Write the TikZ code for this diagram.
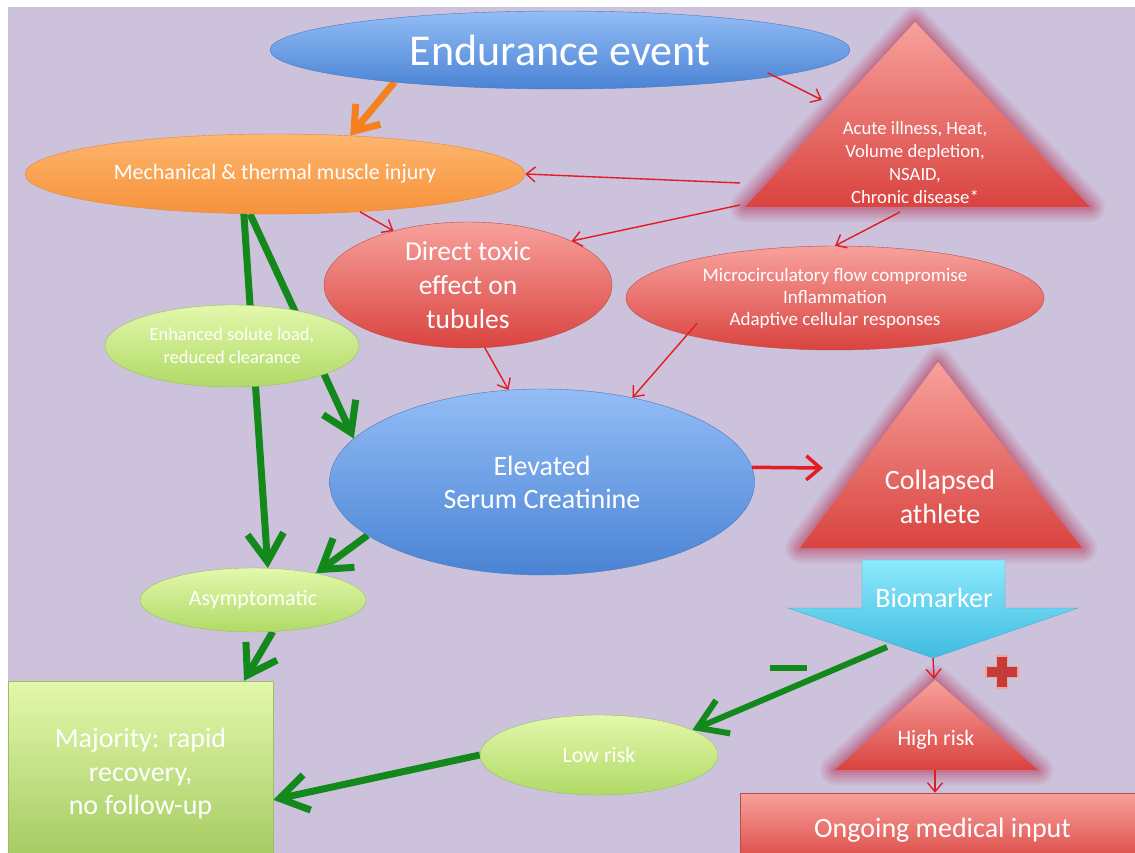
\documentclass[tikz,border=0pt]{standalone}
\usepackage{fontspec}
\setmainfont{Carlito}
\usetikzlibrary{shapes.geometric,arrows.meta,calc}
\pgfdeclarelayer{bg}
\pgfdeclarelayer{edges}
\pgfsetlayers{bg,edges,main}

\definecolor{lav}{HTML}{CCC2DC}
\definecolor{bluetop}{HTML}{93BDF6}
\definecolor{bluebot}{HTML}{4A83D4}
\definecolor{blueline}{HTML}{4D78B8}
\definecolor{redtop}{HTML}{F8A19C}
\definecolor{redbot}{HTML}{D9433F}
\definecolor{redline}{HTML}{BE4B48}
\definecolor{ortop}{HTML}{FDB66E}
\definecolor{orbot}{HTML}{F7923A}
\definecolor{orline}{HTML}{E0873C}
\definecolor{grtop}{HTML}{E3F8AC}
\definecolor{grbot}{HTML}{B0DA66}
\definecolor{grline}{HTML}{9DBF5E}
\definecolor{cytop}{HTML}{8CE9FA}
\definecolor{cybot}{HTML}{3FBCE2}
\definecolor{cyline}{HTML}{4BA9C8}
\definecolor{glowc}{HTML}{BC4866}
\definecolor{garrow}{HTML}{13881B}
\definecolor{rarrow}{HTML}{E31B23}
\definecolor{oarrow}{HTML}{F5801E}

\newcommand{\fs}[2]{\fontsize{#1}{#2}\selectfont}
\newcommand{\glowtri}[3]{%
  \foreach \w/\o in {30/.09,25/.1,20/.12,15/.15,10/.18,5/.22}
    \draw[glowc, opacity=\o, line width=\w pt, line join=round] (#1) -- (#2) -- (#3) -- cycle;
  \path[top color=redtop, bottom color=redbot] (#1) -- (#2) -- (#3) -- cycle;}

\tikzset{
  bubble/.style={ellipse, inner sep=0pt, text=white, align=center},
  bluebub/.style={bubble, draw=blueline, top color=bluetop, bottom color=bluebot},
  redbub/.style={bubble, draw=redline, top color=redtop, bottom color=redbot},
  orbub/.style={bubble, draw=orline, top color=ortop, bottom color=orbot},
  grbub/.style={bubble, draw=grline, top color=grtop, bottom color=grbot},
  grbox/.style={rectangle, inner sep=0pt, text=white, align=center, draw=grline, top color=grtop, bottom color=grbot!92!black},
  redbox/.style={rectangle, inner sep=0pt, text=white, align=center, draw=redline, top color=redtop, bottom color=redbot},
  tritext/.style={inner sep=0pt, text=white, align=center},
  garr/.style={draw=garrow, line width=7pt, -{Straight Barb[length=28pt,width=36pt]}},
  rarr/.style={draw=rarrow, line width=1.4pt, -{Straight Barb[length=9pt,width=15pt]}},
}

\begin{document}
\begin{tikzpicture}[x=1pt,y=-1pt]
			%%%%% START %%%%%
			\useasboundingbox (0,0) rectangle (1135,853);
			\begin{pgfonlayer}{bg}
				\fill[white] (0,0) rectangle (1135,853);
				\fill[lav] (8,7) rectangle (1135,853);
			\end{pgfonlayer}
			
			% ellipses and boxes
			\node[bluebub, minimum width=580pt, minimum height=78pt, font=\fs{44}{48}] (event) at (560,50) {Endurance event};
			\node[orbub, minimum width=500pt, minimum height=80pt, font=\fs{22}{26}] (mech) at (275,174) {Mechanical \& thermal muscle injury};
			\node[redbub, minimum width=288pt, minimum height=126pt, font=\fs{27.5}{34}] (toxic) at (468,285) {Direct toxic\\effect on\\tubules};
			\node[redbub, minimum width=418pt, minimum height=104pt, font=\fs{19}{22}] (micro) at (835,298) {Microcirculatory flow compromise\\Inflammation\\Adaptive cellular responses};
			\node[grbub, minimum width=254pt, minimum height=82pt, font=\fs{18.4}{23}] (solute) at (232,346) {Enhanced solute load,\\reduced clearance};
			\node[bluebub, minimum width=425pt, minimum height=186pt, font=\fs{28}{33}] (creat) at (542,482) {Elevated\\Serum Creatinine};
			\node[grbub, minimum width=226pt, minimum height=64pt, font=\fs{22}{26}] (asym) at (253,600) {Asymptomatic};
			\node[grbub, minimum width=238pt, minimum height=80pt, font=\fs{22}{26}] (low) at (599,755) {Low risk};
			\node[grbox, minimum width=265pt, minimum height=186pt, font=\fs{28}{33.5}] (major) at (140.5,774) {Majority: rapid\\recovery,\\no follow-up};
			\node[redbox, minimum width=405pt, minimum height=74pt, font=\fs{28}{32}] (ongoing) at (942.5,830) {Ongoing medical input};
			
			% triangles
			\coordinate (riskT) at (915,22);
			\coordinate (riskL) at (745,207);
			\coordinate (riskR) at (1090,207);
			\glowtri{riskT}{riskL}{riskR}
			\node[tritext, font=\fs{18.7}{23}] (risk) at (915,163) {Acute illness, Heat,\\Volume depletion,\\NSAID,\\Chronic disease*};
			
			\coordinate (collT) at (938,362);
			\coordinate (collL) at (800,548);
			\coordinate (collR) at (1082,548);
			\glowtri{collT}{collL}{collR}
			\node[tritext, font=\fs{28}{34}] (coll) at (940,497) {Collapsed\\athlete};
			
			\coordinate (highT) at (935,680);
			\coordinate (highL) at (835,770);
			\coordinate (highR) at (1038,770);
			\glowtri{highT}{highL}{highR}
			\node[tritext, font=\fs{22}{26}] (high) at (936,740) {High risk};
			
			% biomarker arrow
			\path[draw=cyline, top color=cytop, bottom color=cybot] (862,560) -- (1005,560) -- (1005,608) -- (1078,608) -- (933,658) -- (788,608) -- (862,608) -- cycle;
			\node[tritext, font=\fs{28}{32}] (bio) at (934,598) {Biomarker};
			
			% free ends
			\coordinate (riskin) at (822,100);
			\coordinate (riskout1) at (740,183);
			\coordinate (riskout2) at (740,205);
			\coordinate (riskout3) at (900,212);
			\coordinate (collin) at (823,468);
			\coordinate (bioedge) at (887,647);
			\coordinate (biotip) at (933,658);
			\coordinate (highin) at (934,679);
			\coordinate (highB) at (935,770);
			
			% thick arrows behind the shapes
			\begin{pgfonlayer}{edges}
				\draw[draw=oarrow, line width=7pt, -{Straight Barb[length=22pt,width=32pt]}] (event.191) -- (mech.27);
				\draw[garr] (mech.232) -- (asym.65);
				\draw[garr] (mech.238) -- (creat.167);
				\draw[garr] (creat.197) -- (asym.23);
				\draw[garr] (asym.-58) -- (major.42);
				\draw[garr, line width=6pt] (bioedge) -- (low.15);
				\draw[garr] (low.west) -- (major.-11);
			\end{pgfonlayer}
			
			% thin red arrows
			\draw[rarr, shorten <=-8pt] (event.-7) -- (riskin);
			\draw[rarr] (riskout1) -- (mech.east);
			\draw[rarr] (riskout2) -- (toxic.23);
			\draw[rarr] (riskout3) -- (micro.north);
			\draw[rarr] (mech.-24) -- (toxic.144);
			\draw[rarr] (toxic.-75) -- (creat.110);
			\draw[rarr, shorten <=-15pt] (micro.194) -- (creat.43);
			\draw[rarr, line width=3.5pt, -{Straight Barb[length=14pt,width=24pt]}] (creat.4) -- (collin);
			\draw[rarr] (biotip) -- (highin);
			\draw[rarr] (highB) -- (highB |- ongoing.north);
			
			% minus and plus
			\fill[garrow] (770,665) rectangle (807,671);
			\draw[draw=redtop, fill=redbot!90!black, line width=1.5pt] (996.5,656) -- (1007.5,656) -- (1007.5,666.5) -- (1018,666.5) -- (1018,677.5) -- (1007.5,677.5) -- (1007.5,688) -- (996.5,688) -- (996.5,677.5) -- (986,677.5) -- (986,666.5) -- (996.5,666.5) -- cycle;
			%%%%% END %%%%%
\end{tikzpicture}
\end{document}
